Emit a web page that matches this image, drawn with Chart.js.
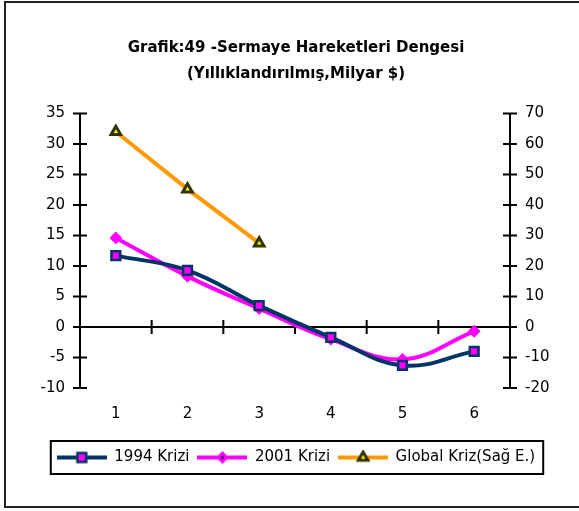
<!DOCTYPE html>
<html lang="tr">
<head>
  <meta charset="UTF-8" />
  <title>Grafik:49 -Sermaye Hareketleri Dengesi</title>
  <script src="https://cdn.jsdelivr.net/npm/chart.js"></script>
  <style>
    body { margin: 0; background: #fff; }
    #kutu { position: relative; width: 579px; height: 511px; }
  </style>
</head>
<body>
  <div id="kutu"><canvas id="grafik" width="579" height="511"></canvas></div>

  <script>
    // veriler
    const donemler = ['1', '2', '3', '4', '5', '6'];
    const kriz1994 = [11.7, 9.3, 3.5, -1.7, -6.3, -4.0];
    const kriz2001 = [14.6, 8.3, 3.0, -2.0, -5.3, -0.7];
    const globalKriz = [64.0, 45.2, 27.5, null, null, null];
    const solEksen = { min: -10, max: 35, adim: 5 };
    const sagEksen = { min: -20, max: 70, adim: 10 };

    const FONT = "'DejaVu Sans', sans-serif";
    const LACIVERT = '#003366';
    const PEMBE = '#ff00ff';
    const TURUNCU = '#ff9900';

    // isaret tanimlari (seri sirasiyla)
    const isaretler = [
      { stil: 'rect', r: 6.2, dolgu: PEMBE, kenar: LACIVERT, kalinlik: 2.5 },
      { stil: 'rectRot', r: 5, dolgu: PEMBE, kenar: PEMBE, kalinlik: 2, nokta: '#000033' },
      { stil: 'triangle', r: 5.5, dolgu: '#ffff00', kenar: '#333300', kalinlik: 3 }
    ];

    // lejant icin cizgi + isaret sembolu
    function sembol(renk, isaret) {
      const c = document.createElement('canvas');
      c.width = 50; c.height = 16;
      const ctx = c.getContext('2d');
      ctx.strokeStyle = renk;
      ctx.lineWidth = 4;
      ctx.beginPath(); ctx.moveTo(0, 8); ctx.lineTo(50, 8); ctx.stroke();
      ctx.fillStyle = isaret.dolgu;
      ctx.strokeStyle = isaret.kenar;
      ctx.lineWidth = isaret.kalinlik;
      Chart.helpers.drawPoint(ctx, { pointStyle: isaret.stil, radius: isaret.r, borderWidth: isaret.kalinlik, rotation: 0 }, 25, 8);
      if (isaret.nokta) {
        ctx.fillStyle = isaret.nokta;
        ctx.beginPath(); ctx.arc(25, 8, 1.5, 0, Math.PI * 2); ctx.fill();
      }
      return c;
    }

    // eksen cizgileri ve capraz tikler
    const eksenCizimi = {
      id: 'eksenCizimi',
      beforeDatasetsDraw(chart) {
        const { ctx, chartArea: a, scales } = chart;
        const y = scales.y, y1 = scales.y1, x = scales.x;
        const sifir = y.getPixelForValue(0);
        ctx.save();
        ctx.strokeStyle = '#000';
        ctx.lineWidth = 2;
        ctx.beginPath();
        ctx.moveTo(a.left, sifir); ctx.lineTo(a.right, sifir);
        y.ticks.forEach(t => {
          const p = y.getPixelForValue(t.value);
          ctx.moveTo(a.left - 7, p); ctx.lineTo(a.left + 7, p);
        });
        y1.ticks.forEach(t => {
          const p = y1.getPixelForValue(t.value);
          ctx.moveTo(a.right - 7, p); ctx.lineTo(a.right + 7, p);
        });
        for (let i = 1; i < donemler.length; i++) {
          const px = (x.getPixelForTick(i - 1) + x.getPixelForTick(i)) / 2;
          ctx.moveTo(px, sifir - 7); ctx.lineTo(px, sifir + 7);
        }
        ctx.stroke();
        ctx.restore();
      },
      afterDraw(chart) {
        const { ctx } = chart;
        ctx.save();
        ctx.strokeStyle = '#222';
        ctx.lineWidth = 2;
        ctx.strokeRect(5, 2, 600, 505);
        // lejant cercevesi
        const kutular = chart.legend.legendHitBoxes;
        if (kutular && kutular.length) {
          const sol = Math.min(...kutular.map(k => k.left)) - 6;
          const sag = Math.max(...kutular.map(k => k.left + k.width)) + 8;
          const orta = kutular[0].top + kutular[0].height / 2;
          ctx.strokeStyle = '#000';
          ctx.strokeRect(sol, orta - 16.5, sag - sol, 33);
        }
        ctx.restore();
      }
    };

    new Chart(document.getElementById('grafik'), {
      type: 'line',
      data: {
        labels: donemler,
        datasets: [
          {
            label: '1994 Krizi',
            data: kriz1994,
            yAxisID: 'y',
            borderColor: LACIVERT,
            borderWidth: 4,
            tension: 0.4,
            pointStyle: isaretler[0].stil,
            pointRadius: isaretler[0].r,
            pointBackgroundColor: isaretler[0].dolgu,
            pointBorderColor: isaretler[0].kenar,
            pointBorderWidth: isaretler[0].kalinlik
          },
          {
            label: '2001 Krizi',
            data: kriz2001,
            yAxisID: 'y',
            borderColor: PEMBE,
            borderWidth: 4,
            tension: 0.4,
            pointStyle: isaretler[1].stil,
            pointRadius: isaretler[1].r,
            pointBackgroundColor: isaretler[1].dolgu,
            pointBorderColor: isaretler[1].kenar,
            pointBorderWidth: isaretler[1].kalinlik
          },
          {
            label: 'Global Kriz(Sağ E.)',
            data: globalKriz,
            yAxisID: 'y1',
            borderColor: TURUNCU,
            borderWidth: 4,
            tension: 0,
            pointStyle: isaretler[2].stil,
            pointRadius: isaretler[2].r,
            pointBackgroundColor: isaretler[2].dolgu,
            pointBorderColor: isaretler[2].kenar,
            pointBorderWidth: isaretler[2].kalinlik
          },
          {
            // 2001 elmaslarinin ortasindaki koyu nokta
            label: '',
            data: kriz2001,
            yAxisID: 'y',
            showLine: false,
            pointStyle: 'circle',
            pointRadius: 1.5,
            pointBorderWidth: 0,
            pointBackgroundColor: '#000033'
          }
        ]
      },
      options: {
        responsive: false,
        animation: false,
        layout: { padding: { top: 8, left: 13, right: 0, bottom: 36 } },
        scales: {
          x: {
            offset: true,
            grid: { display: false, drawTicks: false },
            border: { display: false },
            ticks: { color: '#000', font: { family: FONT, size: 15 }, padding: 17, maxRotation: 0 },
            afterFit(s) { s.height = 54; }
          },
          y: {
            position: 'left',
            min: solEksen.min, max: solEksen.max,
            grid: { display: false, drawTicks: false },
            border: { display: true, color: '#000', width: 2 },
            ticks: { stepSize: solEksen.adim, color: '#000', font: { family: FONT, size: 15 }, padding: 15 },
            afterFit(s) { s.width = 67; }
          },
          y1: {
            position: 'right',
            min: sagEksen.min, max: sagEksen.max,
            grid: { display: false, drawTicks: false },
            border: { display: true, color: '#000', width: 2 },
            ticks: { stepSize: sagEksen.adim, color: '#000', font: { family: FONT, size: 15 }, padding: 15 },
            afterFit(s) { s.width = 69; }
          }
        },
        plugins: {
          title: {
            display: true,
            text: ['Grafik:49 -Sermaye Hareketleri Dengesi', '(Yıllıklandırılmış,Milyar $)'],
            color: '#000',
            font: { family: FONT, size: 15, weight: 'bold', lineHeight: 1.75 },
            padding: { top: 27, bottom: 26 }
          },
          legend: {
            position: 'bottom',
            labels: {
              usePointStyle: true,
              pointStyleWidth: 50,
              padding: 8,
              color: '#000',
              font: { family: FONT, size: 15 },
              generateLabels(chart) {
                return chart.data.datasets.slice(0, 3).map((d, i) => ({
                  text: d.label,
                  datasetIndex: i,
                  pointStyle: sembol(d.borderColor, isaretler[i]),
                  fillStyle: 'rgba(0,0,0,0)',
                  strokeStyle: 'rgba(0,0,0,0)',
                  lineWidth: 0,
                  hidden: false,
                  fontColor: '#000'
                }));
              }
            }
          },
          tooltip: { enabled: false }
        }
      },
      plugins: [eksenCizimi]
    });
  </script>
</body>
</html>
